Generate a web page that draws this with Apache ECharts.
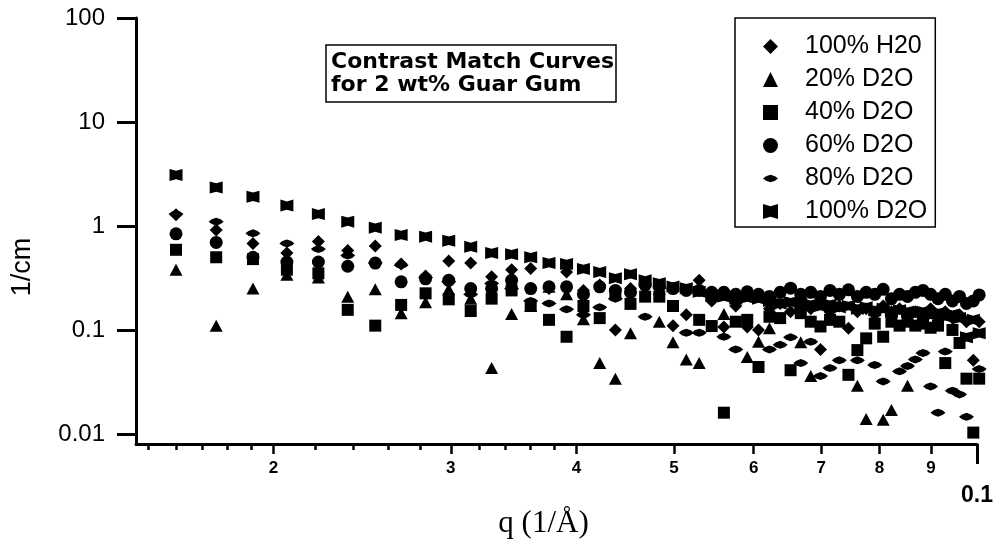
<!DOCTYPE html>
<html>
<head>
<meta charset="utf-8">
<script src="https://cdn.jsdelivr.net/npm/echarts@6/dist/echarts.min.js"></script>
<style>
html,body{margin:0;padding:0;background:#fff;}
#chart{width:1001px;height:546px;}
</style>
</head>
<body>
<div id="chart"></div>
<script>
// q values (1/Å)
var q = [0.01600, 0.01754, 0.01908, 0.02062, 0.02216, 0.02370, 0.02524, 0.02678, 0.02832, 0.02986,
         0.03140, 0.03294, 0.03448, 0.03602, 0.03756, 0.03910, 0.04064, 0.04218, 0.04372, 0.04526,
         0.04680, 0.04834, 0.04988, 0.05142, 0.05296, 0.05450, 0.05604, 0.05758, 0.05912, 0.06066,
         0.06220, 0.06374, 0.06528, 0.06682, 0.06836, 0.06990, 0.07144, 0.07298, 0.07452, 0.07606,
         0.07760, 0.07914, 0.08068, 0.08222, 0.08376, 0.08530, 0.08684, 0.08838, 0.08992, 0.09146,
         0.09300, 0.09454, 0.09608, 0.09762, 0.09916, 0.10050];

// 100% H2O (diamonds)
var h2o100 = [1.28, 0.915, 0.68, 0.55, 0.71, 0.58, 0.64, 0.43, 0.33, 0.46,
              0.44, 0.325, 0.38, 0.39, 0.25, 0.36, 0.24, 0.27, 0.10, 0.25,
              0.26, 0.22, 0.11, 0.14, 0.30, 0.19, 0.107, 0.17, 0.107, 0.10,
              0.16, 0.18, 0.15, 0.17, 0.16, 0.065, 0.15, 0.17, 0.104, 0.15,
              0.16, 0.14, 0.17, 0.15, 0.16, 0.14, 0.15, 0.13, 0.16, 0.14,
              0.15, 0.13, 0.14, 0.12, 0.051, 0.12];
// 20% D2O (triangles)
var d2o20 = [0.38, 0.110, 0.25, 0.34, 0.32, 0.209, 0.246, 0.145, 0.185, 0.246,
             0.20, 0.043, 0.142, 0.17, 0.26, 0.22, 0.127, 0.048, 0.034, 0.093,
             null, 0.12, 0.076, 0.052, 0.048, null, 0.142, null, 0.055, 0.077,
             0.104, null, null, 0.076, 0.036, null, null, null, null, 0.029,
             0.0139, null, 0.0137, 0.017, null, 0.029, null, null, null, null,
             null, null, null, null, null, null];
// 40% D2O (squares)
var d2o40 = [0.59, 0.50, 0.48, 0.38, 0.35, 0.156, 0.110, 0.174, 0.225, 0.197,
             0.152, 0.20, 0.24, 0.17, 0.125, 0.086, 0.17, 0.130, 0.22, 0.178,
             0.209, 0.209, 0.17, null, 0.125, 0.109, 0.016, 0.12, 0.125, 0.044,
             0.134, 0.130, 0.041, 0.145, 0.12, 0.108, 0.125, 0.12, 0.037, 0.064,
             0.083, 0.115, 0.086, 0.12, 0.11, 0.12, 0.11, 0.115, 0.105, 0.11,
             0.048, 0.10, 0.075, 0.034, 0.0103, 0.034];
// 60% D2O (circles)
var d2o60 = [0.84, 0.694, 0.50, 0.45, 0.45, 0.41, 0.44, 0.29, 0.31, 0.30,
             0.25, 0.25, 0.30, 0.25, 0.26, 0.26, 0.22, 0.26, 0.24, 0.23,
             0.27, 0.26, 0.25, 0.24, 0.24, 0.23, 0.23, 0.22, 0.233, 0.22,
             0.21, 0.23, 0.252, 0.22, 0.23, 0.21, 0.24, 0.22, 0.243, 0.21,
             0.23, 0.22, 0.246, 0.20, 0.22, 0.21, 0.23, 0.24, 0.22, 0.20,
             0.22, 0.19, 0.21, 0.18, 0.19, 0.217];
// 80% D2O (flat lens)
var d2o80 = [1.30, 1.10, 0.85, 0.68, 0.60, 0.52, 0.44, 0.42, 0.32, 0.29,
             0.22, 0.28, 0.25, 0.19, 0.18, 0.158, 0.14, 0.165, 0.20, null,
             0.134, null, null, 0.094, 0.094, null, 0.086, 0.065, null, null,
             0.065, 0.072, 0.085, 0.048, 0.077, 0.036, 0.043, 0.051, null, 0.051,
             null, 0.046, 0.032, null, 0.040, 0.045, 0.052, 0.060, 0.0286, 0.016,
             0.062, 0.026, 0.024, 0.0146, null, 0.042];
// 100% D2O (notched squares)
var d2o100 = [3.09, 2.34, 1.91, 1.57, 1.30, 1.10, 0.963, 0.819, 0.789, 0.72,
              0.63, 0.55, 0.535, 0.50, 0.44, 0.43, 0.385, 0.36, 0.315, 0.343,
              0.30, 0.281, 0.261, 0.252, 0.233, 0.215, 0.21, 0.20, 0.205, 0.20,
              0.19, 0.18, 0.185, 0.18, 0.175, 0.17, 0.175, 0.165, 0.17, 0.16,
              0.165, 0.155, 0.16, 0.15, 0.155, 0.15, 0.145, 0.15, 0.14, 0.145,
              0.135, 0.14, 0.13, 0.085, 0.125, 0.093];

var seriesNames = ['100% H20', '20% D2O', '40% D2O', '60% D2O', '80% D2O', '100% D2O'];

// axis ticks
var xMajorTicks = [0.02, 0.03, 0.04, 0.05, 0.06, 0.07, 0.08, 0.09];
var xMinorTicks = [0.015, 0.016, 0.017, 0.018, 0.019, 0.022, 0.024, 0.026, 0.028,
                   0.032, 0.034, 0.036, 0.038];
var xEndTicks = [0.1];
var yTicks = [0.01, 0.1, 1, 10, 100];

var SYM_LENS = 'path://M0,5 L4,2 L10,0 L16,2 L20,5 L16,8 L10,10 L4,8 Z';
var SYM_NOTCH = 'path://M0,0 L5,1.5 L10,0 L10,10 L5,8.5 L0,10 Z';

function pairs(vals) {
  var out = [];
  for (var i = 0; i < q.length; i++) {
    if (vals[i] !== null && vals[i] !== undefined) out.push([q[i], vals[i]]);
  }
  return out;
}

var X_MIN = 0.0146, X_MAX = 0.1;
var FONT = 'Liberation Sans';

var chart = echarts.init(document.getElementById('chart'), null, {renderer: 'canvas'});
var mk = function (name, vals, symbol, size) {
  return {
    name: name, type: 'scatter', data: pairs(vals), symbol: symbol, symbolSize: size,
    itemStyle: {color: '#000', opacity: 1}, clip: false, xAxisIndex: 0, yAxisIndex: 0
  };
};
var option = {
  animation: false,
  backgroundColor: '#fff',
  textStyle: {fontFamily: FONT, color: '#000'},
  title: {
    text: 'Contrast Match Curves\nfor 2 wt% Guar Gum',
    left: 326, top: 45,
    borderColor: '#000', borderWidth: 1.5,
    padding: [6, 2, 5, 5],
    textStyle: {fontFamily: 'DejaVu Sans', fontWeight: 'bold', fontSize: 22, lineHeight: 23, color: '#000'}
  },
  legend: {
    orient: 'vertical', left: 735, top: 18,
    padding: [16, 8, 3, 28],
    itemWidth: 15, itemHeight: 15, itemGap: 8,
    borderColor: '#000', borderWidth: 1.5,
    selectedMode: false,
    textStyle: {fontFamily: FONT, fontSize: 25, lineHeight: 25, color: '#000', padding: [0, 0, 0, 22]},
    data: seriesNames
  },
  grid: {left: 136, right: 24, top: 18, bottom: 102, containLabel: false},
  xAxis: [
    {
      type: 'log', min: X_MIN, max: X_MAX, position: 'bottom', gridIndex: 0,
      axisLine: {show: true, lineStyle: {color: '#000', width: 3}},
      axisTick: {show: true, customValues: xMajorTicks, length: 10, lineStyle: {color: '#000', width: 2.5}},
      axisLabel: {customValues: xMajorTicks, formatter: function (v) { return String(Math.round(v * 100)); },
                  fontFamily: FONT, fontWeight: 'bold', fontSize: 17, color: '#000', margin: 16},
      splitLine: {show: false}, minorTick: {show: false},
      name: 'q (1/Å)', nameLocation: 'middle', nameGap: 64,
      nameTextStyle: {fontFamily: 'Liberation Serif', fontSize: 31, color: '#000', padding: [0, 26, 0, 0]}
    },
    {
      type: 'log', min: X_MIN, max: X_MAX, position: 'bottom', gridIndex: 0,
      axisLine: {show: false},
      axisTick: {show: true, customValues: xMinorTicks, length: 6, lineStyle: {color: '#000', width: 2.5}},
      axisLabel: {show: false}, splitLine: {show: false}
    },
    {
      type: 'log', min: X_MIN, max: X_MAX, position: 'bottom', gridIndex: 0,
      axisLine: {show: false},
      axisTick: {show: true, customValues: xEndTicks, length: 20, lineStyle: {color: '#000', width: 3}},
      axisLabel: {customValues: xEndTicks, formatter: function (v) { return '0.1'; },
                  fontFamily: FONT, fontWeight: 'bold', fontSize: 23, color: '#000', margin: 40},
      splitLine: {show: false}
    }
  ],
  yAxis: {
    type: 'log', min: 0.008, max: 100,
    axisLine: {show: true, lineStyle: {color: '#000', width: 3}},
    axisTick: {show: true, customValues: yTicks, length: 19, lineStyle: {color: '#000', width: 3}},
    axisLabel: {customValues: yTicks, formatter: function (v) { return String(v); },
                fontFamily: FONT, fontSize: 24, color: '#000', margin: 31},
    splitLine: {show: false}, minorTick: {show: false},
    name: '1/cm', nameLocation: 'middle', nameGap: 100, nameRotate: 90,
    nameTextStyle: {fontFamily: FONT, fontSize: 27, color: '#000', padding: [0, 72, 0, 0]}
  },
  series: [
    mk(seriesNames[0], h2o100, 'diamond', [13, 13]),
    mk(seriesNames[1], d2o20, 'triangle', [13, 12]),
    mk(seriesNames[2], d2o40, 'rect', [12, 12]),
    mk(seriesNames[3], d2o60, 'circle', 13),
    mk(seriesNames[4], d2o80, SYM_LENS, [15, 8]),
    mk(seriesNames[5], d2o100, SYM_NOTCH, [13, 12])
  ]
};
chart.setOption(option);
</script>
</body>
</html>
